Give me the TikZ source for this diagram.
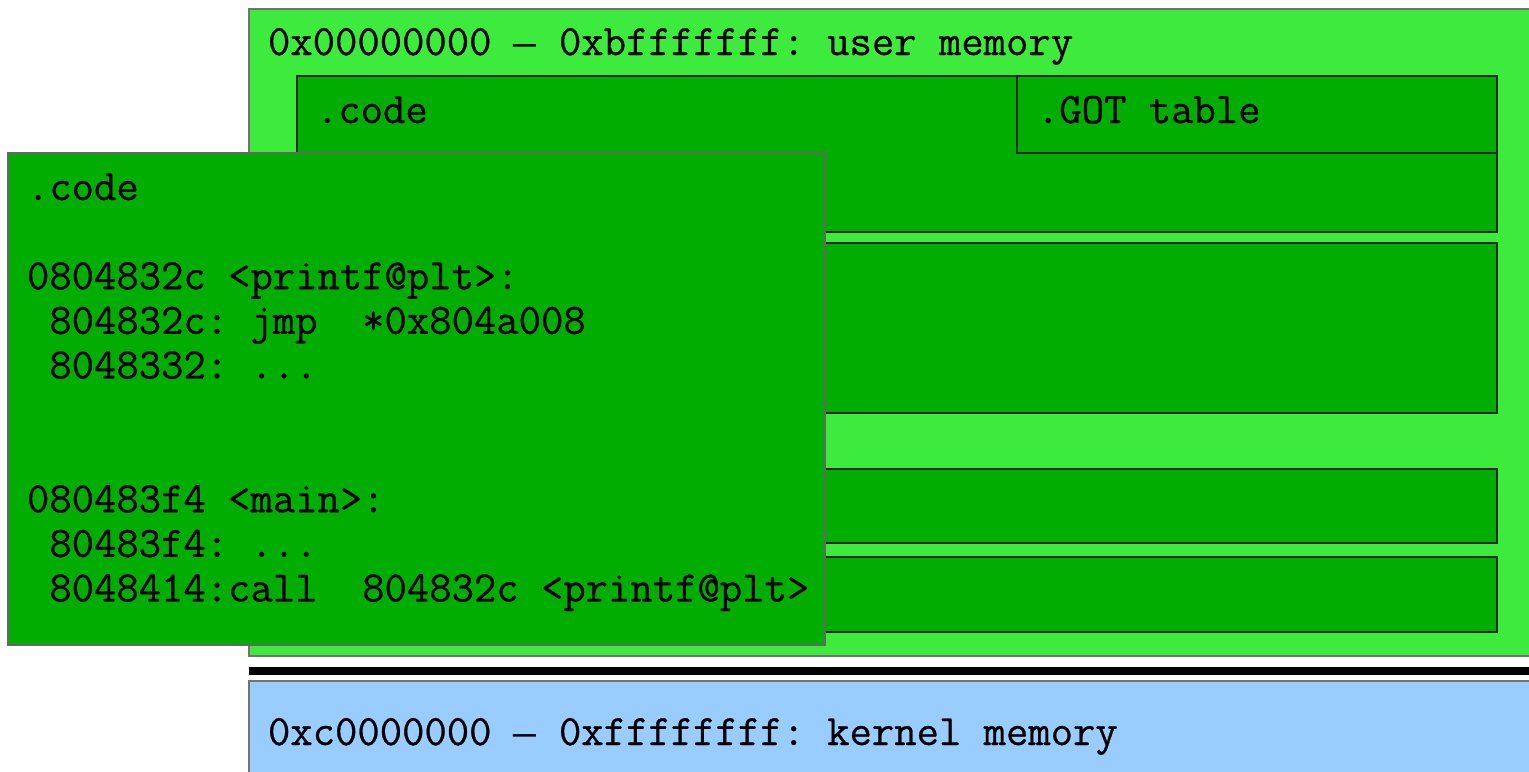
\documentclass[tikz,border=0pt]{standalone}
\usepackage{fontspec}
\newfontfamily\codefont{Latin Modern Mono}[FakeBold=0.6]
\newfontfamily\dashfont{Liberation Mono}
\definecolor{lightg}{RGB}{61,235,61}
\definecolor{darkg}{RGB}{0,173,0}
\definecolor{kblue}{RGB}{153,204,255}
\newcommand{\cdash}{{\dashfont\fontsize{19}{22.3}\selectfont —}}
\tikzset{
  region/.style={draw=black!55, fill=lightg, line width=0.7pt},
  seg/.style={draw=black!85, fill=darkg, line width=0.7pt},
  popup/.style={draw=black!60, fill=darkg, line width=0.7pt},
  kernel/.style={draw=black!55, fill=kblue, line width=0.7pt},
  lbl/.style={anchor=base west, inner sep=0pt, outer sep=0pt, font=\codefont\fontsize{21.7}{22.3}\selectfont}
}
\begin{document}
\begin{tikzpicture}[x=0.5pt, y=-0.5pt]
\useasboundingbox (0,0) rectangle (1529,771);
% user memory region
\draw[region] (249,9) rectangle (1545,656);
\node[lbl] (user) at (268,55) {0x00000000~\cdash~0xbfffffff:~user~memory};
% segments
\draw[seg] (297,76) rectangle (1497,232);
\draw[seg] (1017,76) rectangle (1497,153);
\node[lbl] (code) at (316,123) {.code};
\node[lbl] (got) at (1037,123) {.GOT~table};
\draw[seg] (297,243) rectangle (1497,413);
\draw[seg] (297,469) rectangle (1497,543);
\draw[seg] (297,557) rectangle (1497,632);
% separator
\fill[black] (249,667) rectangle (1545,675);
% kernel
\draw[kernel] (249,681) rectangle (1545,790);
\node[lbl] (kern) at (268,745) {0xc0000000~\cdash~0xffffffff:~kernel~memory};
% code popup
\draw[popup] (8,153) rectangle (825,645);
\node[lbl] (l1) at (27,200) {.code};
\node[lbl] (l2) at (27,289.2) {0804832c~<printf@plt>:};
\node[lbl] (l3) at (27,333.8) {~804832c:~jmp~~*0x804a008};
\node[lbl] (l4) at (27,378.4) {~8048332:~...};
\node[lbl] (l5) at (27,512.2) {080483f4~<main>:};
\node[lbl] (l6) at (27,556.8) {~80483f4:~...};
\node[lbl] (l7) at (27,601.4) {~8048414:call~~804832c~<printf@plt>};
\end{tikzpicture}
\end{document}
